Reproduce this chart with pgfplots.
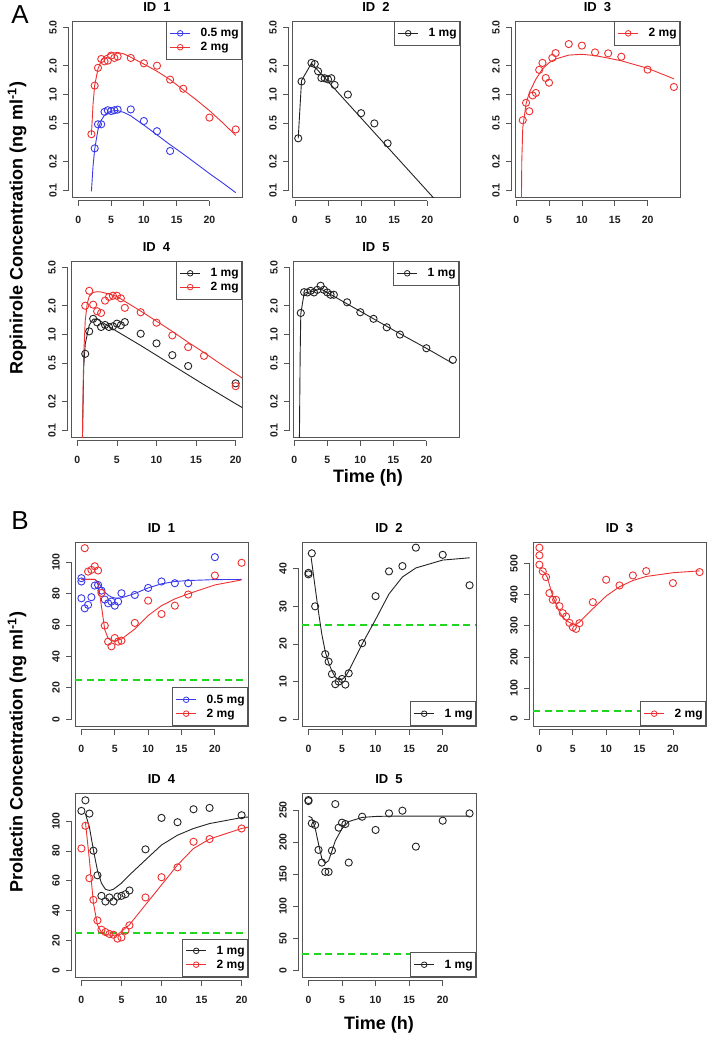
\documentclass[border=0pt]{standalone}
\usepackage{fontspec}
\setmainfont{Liberation Sans}
\usepackage{pgfplots}
\pgfplotsset{compat=1.18}

\definecolor{mred}{RGB}{238,48,48}
\definecolor{mblue}{RGB}{58,58,235}
\definecolor{mblk}{RGB}{35,35,35}
\definecolor{mgreen}{RGB}{30,215,30}
\definecolor{axcol}{RGB}{85,85,85}

\newcommand{\tickfont}{\fontsize{10.5}{11}\selectfont\bfseries}

\pgfplotsset{
 legend image code/.code={\draw[mark repeat=2,mark phase=2,#1] plot coordinates {(0pt,0pt) (10pt,0pt) (20pt,0pt)};},
 rbase/.style={
   scale only axis, anchor=north west,
   axis line style={axcol, line width=0.9pt},
   major tick length=0pt,
   tick style={draw=none},
   /pgf/number format/assume math mode=true,
   ticklabel style={font=\tickfont, text=black!88, inner sep=0pt},
   xticklabel shift=19pt,
   yticklabel style={rotate=90, anchor=south},
   yticklabel shift=15pt,
   clip mode=individual,
   title style={font=\fontsize{13}{14}\selectfont\bfseries, at={(0.5,1)}, anchor=center, yshift=8pt},
   legend cell align=left,
   legend style={draw=axcol, line width=0.8pt, fill=white, font=\fontsize{12}{13}\selectfont\bfseries, inner xsep=3pt, inner ysep=5pt, nodes={inner xsep=0pt, inner ysep=2pt}, row sep=0pt, /tikz/every odd column/.append style={column sep=10pt}},
 },
 legNE/.style={legend style={at={(1,1)}, anchor=north east}},
 legSE/.style={legend style={at={(1,0)}, anchor=south east}},
 pts/.style={only marks, mark=o, mark size=3.6pt, line width=0.9pt, forget plot},
 fit/.style={no marks, line width=0.9pt, forget plot},
 thr/.style={color=mgreen, draw=mgreen, line width=1.8pt, dash pattern=on 7pt off 4.5pt, forget plot},
}

% R-style offset axes: #1 = ymin, #2 first, #3 last, #4 list
\newcommand{\Rxax}[4]{%
  \draw[axcol, line width=0.8pt] ([yshift=-3.5pt]axis cs:#2,#1) -- ([yshift=-3.5pt]axis cs:#3,#1);
  \pgfplotsinvokeforeach{#4}{\draw[axcol, line width=0.8pt] ([yshift=-3.5pt]axis cs:##1,#1) -- ([yshift=-9pt]axis cs:##1,#1);}%
}
\newcommand{\Ryax}[4]{%
  \draw[axcol, line width=0.8pt] ([xshift=-3.5pt]axis cs:#1,#2) -- ([xshift=-3.5pt]axis cs:#1,#3);
  \pgfplotsinvokeforeach{#4}{\draw[axcol, line width=0.8pt] ([xshift=-3.5pt]axis cs:#1,##1) -- ([xshift=-9pt]axis cs:#1,##1);}%
}

\begin{document}
\begin{tikzpicture}
\fill[white] (0,0) rectangle (709pt,-1038pt);
\useasboundingbox (0,0) rectangle (709pt,-1038pt);

% ---------------- Panel A ----------------
\begin{axis}[rbase, ymode=log, ymin=0.0855, ymax=5.85, ytick={0.1,0.2,0.5,1,2,5}, yticklabels={0.1,0.2,0.5,1.0,2.0,5.0}, xtick={0,5,10,15,20}, legNE, at={(72pt,-21pt)}, width=170pt, height=176pt, xmin=-0.96, xmax=24.96, title={ID\ \ 1}]
\addplot[fit, mblue] coordinates {(2,0.098)(2.25,0.18)(2.5,0.27)(3,0.43)(3.5,0.54)(4,0.61)(4.5,0.65)(5,0.67)(5.5,0.68)(6,0.68)(7,0.65)(8,0.6)(10,0.48)(12,0.38)(14,0.30)(16,0.24)(18,0.19)(20,0.15)(22,0.12)(24,0.095)};
\addplot[fit, mred] coordinates {(2,0.38)(2.25,0.8)(2.5,1.25)(3,1.85)(3.5,2.25)(4,2.5)(5,2.7)(6,2.75)(7,2.65)(8,2.45)(10,2.08)(12,1.75)(14,1.43)(16,1.12)(18,0.88)(20,0.68)(22,0.51)(24,0.375)};
\addplot[pts, mblue] coordinates {(2.5,0.275)(3,0.49)(3.5,0.49)(4,0.66)(4.5,0.686)(5,0.673)(5.5,0.686)(6,0.697)(8,0.70)(10,0.53)(12,0.415)(14,0.258)};
\addplot[pts, mred] coordinates {(2,0.386)(2.5,1.24)(3,1.90)(3.5,2.35)(4,2.22)(4.5,2.26)(5,2.55)(5.5,2.41)(6,2.49)(8,2.41)(10,2.12)(12,2.0)(14,1.43)(16,1.15)(20,0.575)(24,0.433)};
\Rxax{0.0855}{0}{20}{0,5,10,15,20}
\Ryax{-0.96}{0.1}{5}{0.1,0.2,0.5,1,2,5}
\addlegendimage{mblue, line width=0.8pt, mark=o, mark size=2.8pt}
\addlegendentry{0.5 mg}
\addlegendimage{mred, line width=0.8pt, mark=o, mark size=2.8pt}
\addlegendentry{2 mg}
\end{axis}

\begin{axis}[rbase, ymode=log, ymin=0.0855, ymax=5.85, ytick={0.1,0.2,0.5,1,2,5}, yticklabels={0.1,0.2,0.5,1.0,2.0,5.0}, xtick={0,5,10,15,20}, legNE, at={(292pt,-21pt)}, width=168pt, height=176pt, xmin=-0.44, xmax=24.94, title={ID\ \ 2}]
\addplot[fit, mblk] coordinates {(0.5,0.35)(1,1.4)(2.5,2.12)(24,0.049)};
\addplot[pts, mblk] coordinates {(0.5,0.35)(1,1.37)(2.5,2.14)(3,2.08)(3.5,1.75)(4,1.49)(4.5,1.48)(5,1.44)(5.5,1.48)(6,1.26)(8,1.0)(10,0.64)(12,0.50)(14,0.31)};
\Rxax{0.0855}{0}{20}{0,5,10,15,20}
\Ryax{-0.44}{0.1}{5}{0.1,0.2,0.5,1,2,5}
\addlegendimage{mblk, line width=0.8pt, mark=o, mark size=2.8pt}
\addlegendentry{1 mg}
\end{axis}

\begin{axis}[rbase, ymode=log, ymin=0.0855, ymax=5.85, ytick={0.1,0.2,0.5,1,2,5}, yticklabels={0.1,0.2,0.5,1.0,2.0,5.0}, xtick={0,5,10,15,20}, legNE, at={(515pt,-21pt)}, width=165pt, height=176pt, xmin=-0.18, xmax=24.93, title={ID\ \ 3}]
\addplot[fit, mred] coordinates {(0.75,0.03)(0.85,0.2)(1,0.45)(1.5,0.8)(2,1.05)(3,1.45)(4,1.85)(5,2.15)(6,2.35)(8,2.58)(10,2.63)(12,2.55)(14,2.4)(16,2.25)(20,1.88)(24,1.46)};
\addplot[pts, mred] coordinates {(1,0.54)(1.5,0.82)(2,0.67)(2.5,0.98)(3,1.04)(3.5,1.81)(4,2.14)(4.5,1.49)(5,1.33)(5.5,2.41)(6,2.71)(8,3.36)(10,3.24)(12,2.75)(14,2.69)(16,2.48)(20,1.82)(24,1.20)};
\Rxax{0.0855}{0}{20}{0,5,10,15,20}
\Ryax{-0.18}{0.1}{5}{0.1,0.2,0.5,1,2,5}
\addlegendimage{mred, line width=0.8pt, mark=o, mark size=2.8pt}
\addlegendentry{2 mg}
\end{axis}

\begin{axis}[rbase, ymode=log, ymin=0.0855, ymax=5.85, ytick={0.1,0.2,0.5,1,2,5}, yticklabels={0.1,0.2,0.5,1.0,2.0,5.0}, xtick={0,5,10,15,20}, legNE, at={(71pt,-261pt)}, width=171pt, height=176pt, xmin=-0.8, xmax=20.8, title={ID\ \ 4}]
\addplot[fit, mblk] coordinates {(0.6,0.05)(0.8,0.45)(1,0.8)(1.5,1.25)(2,1.45)(2.5,1.45)(5,1.08)(8,0.77)(12,0.48)(16,0.30)(20,0.19)(21,0.17)};
\addplot[fit, mred] coordinates {(0.6,0.05)(0.8,0.6)(1,1.4)(1.25,2.1)(1.5,2.5)(2,2.75)(2.5,2.8)(3,2.78)(4,2.65)(5,2.5)(6,2.22)(8,1.76)(10,1.38)(12,1.08)(14,0.83)(16,0.65)(18,0.5)(20,0.39)(21,0.345)};
\addplot[pts, mblk] coordinates {(1,0.63)(1.5,1.08)(2,1.46)(2.5,1.34)(3,1.20)(3.5,1.26)(4,1.20)(4.5,1.22)(5,1.30)(5.5,1.25)(6,1.35)(8,1.02)(10,0.81)(12,0.61)(14,0.47)(20,0.31)};
\addplot[pts, mred] coordinates {(1,2.0)(1.5,2.86)(2,2.05)(2.5,1.75)(3,1.68)(3.5,2.26)(4,2.47)(4.5,2.54)(5,2.54)(5.5,2.39)(6,1.90)(8,1.71)(10,1.33)(12,0.98)(14,0.74)(16,0.60)(20,0.29)};
\Rxax{0.0855}{0}{20}{0,5,10,15,20}
\Ryax{-0.8}{0.1}{5}{0.1,0.2,0.5,1,2,5}
\addlegendimage{mblk, line width=0.8pt, mark=o, mark size=2.8pt}
\addlegendentry{1 mg}
\addlegendimage{mred, line width=0.8pt, mark=o, mark size=2.8pt}
\addlegendentry{2 mg}
\end{axis}

\begin{axis}[rbase, ymode=log, ymin=0.0855, ymax=5.85, ytick={0.1,0.2,0.5,1,2,5}, yticklabels={0.1,0.2,0.5,1.0,2.0,5.0}, xtick={0,5,10,15,20}, legNE, at={(293pt,-261pt)}, width=166pt, height=176pt, xmin=-0.18, xmax=24.93, title={ID\ \ 5}]
\addplot[fit, mblk] coordinates {(0.78,0.07)(0.9,0.6)(1,1.65)(1.5,2.7)(2,2.75)(3,2.85)(4,3.0)(5,2.74)(6,2.51)(8,2.09)(10,1.75)(12,1.46)(16,1.02)(20,0.72)(24,0.5)};
\addplot[pts, mblk] coordinates {(1,1.68)(1.5,2.77)(2,2.75)(2.5,2.86)(3,2.75)(3.5,2.93)(4,3.23)(4.5,2.93)(5,2.75)(5.5,2.6)(6,2.6)(8,2.17)(10,1.71)(12,1.46)(14,1.19)(16,1.0)(20,0.72)(24,0.545)};
\Rxax{0.0855}{0}{20}{0,5,10,15,20}
\Ryax{-0.18}{0.1}{5}{0.1,0.2,0.5,1,2,5}
\addlegendimage{mblk, line width=0.8pt, mark=o, mark size=2.8pt}
\addlegendentry{1 mg}
\end{axis}

% ---------------- Panel B ----------------
\begin{axis}[rbase, legSE, at={(75pt,-542pt)}, width=173pt, height=184pt, xmin=-0.96, xmax=24.96, ymin=-4.34, ymax=112.84, xtick={0,5,10,15,20}, ytick={0,20,40,60,80,100}, title={ID\ \ 1}]
\addplot[thr] coordinates {(-0.96,25)(24.96,25)};
\addplot[fit, mblue] coordinates {(0,89)(2,89)(2.5,87.5)(3,84)(3.5,81)(4,79)(4.5,77.8)(5,77.2)(5.5,77)(6,77.3)(8,80)(10,83.6)(12,86.2)(14,87.7)(16,88.3)(20,88.9)(24,89)};
\addplot[fit, mred] coordinates {(0,89)(2,89)(2.5,87)(3,72)(3.5,57)(4,51.5)(4.5,50)(5,49.8)(6,51)(8,57.4)(10,66)(12,72.3)(14,76.6)(16,79.8)(20,85.5)(24,88.7)};
\addplot[pts, mblue] coordinates {(0,89.8)(0,87.7)(0,77.0)(0.5,70.6)(1,72.8)(1.5,77.7)(2,85.1)(2.5,85.5)(3,81.9)(3.5,76.2)(4,73.8)(4.5,74.9)(5,72.3)(5.5,74.9)(6,80.2)(8,79.1)(10,83.6)(12,87.7)(14,86.6)(16,86.6)(20,103.2)};
\addplot[pts, mred] coordinates {(0.5,108.9)(1,94.0)(1.5,95.1)(2,97.4)(2.5,94.7)(3,80.4)(3.5,59.6)(4,49.4)(4.5,46.4)(5,51.7)(5.5,49.4)(6,50.0)(8,61.3)(10,75.5)(12,67.0)(14,72.3)(16,79.4)(20,91.5)(24,99.6)};
\Rxax{-4.34}{0}{20}{0,5,10,15,20}
\Ryax{-0.96}{0}{100}{0,20,40,60,80,100}
\addlegendimage{mblue, line width=0.8pt, mark=o, mark size=2.8pt}
\addlegendentry{0.5 mg}
\addlegendimage{mred, line width=0.8pt, mark=o, mark size=2.8pt}
\addlegendentry{2 mg}
\end{axis}

\begin{axis}[rbase, legSE, at={(302pt,-542pt)}, width=174pt, height=184pt, xmin=-0.96, xmax=24.96, ymin=-1.81, ymax=47.1, xtick={0,5,10,15,20}, ytick={0,10,20,30,40}, title={ID\ \ 2}]
\addplot[thr] coordinates {(-0.96,25)(24.96,25)};
\addplot[fit, mblk] coordinates {(0.4,43)(1,35)(1.5,28.5)(2,22.5)(2.5,18)(3,15)(3.5,12.8)(4,11.2)(4.5,10.5)(5,10.6)(5.5,11.3)(6,12.8)(8,20)(10,26.5)(12,33.3)(14,37.8)(16,40.2)(20,42.3)(24,42.9)};
\addplot[pts, mblk] coordinates {(0,38.9)(0,38.5)(0.5,44.1)(1,30.0)(2.5,17.3)(3,15.3)(3.5,12.0)(4,9.3)(4.5,10.0)(5,10.7)(5.5,9.2)(6,12.2)(8,20.2)(10,32.7)(12,39.3)(14,40.7)(16,45.6)(20,43.7)(24,35.6)};
\Rxax{-1.81}{0}{20}{0,5,10,15,20}
\Ryax{-0.96}{0}{40}{0,10,20,30,40}
\addlegendimage{mblk, line width=0.8pt, mark=o, mark size=2.8pt}
\addlegendentry{1 mg}
\end{axis}

\begin{axis}[rbase, legSE, at={(533pt,-542pt)}, width=173pt, height=184pt, xmin=-0.96, xmax=24.96, ymin=-22.3, ymax=569.9, xtick={0,5,10,15,20}, ytick={0,100,200,300,400,500}, title={ID\ \ 3}]
\addplot[thr, line width=2.2pt] coordinates {(-0.96,25)(24.96,25)};
\addplot[fit, mred] coordinates {(0.2,480)(0.8,470)(1.2,455)(1.5,432)(2,395)(2.5,370)(3,345)(3.5,328)(4,318)(4.5,311)(5,306)(5.5,305)(6,312)(8,355)(10,396)(12,426)(14,446)(16,459)(20,471)(24,477)};
\addplot[pts, mred] coordinates {(0,551.6)(0,526.9)(0,496.8)(0.5,475.3)(1,457)(1.5,405.4)(2,383.9)(2.5,383.9)(3,363.4)(3.5,340.9)(4,330.1)(4.5,309.7)(5,295.7)(5.5,290.3)(6,308.6)(8,376.3)(10,448.4)(12,430.1)(14,462.4)(16,476.3)(20,437.6)(24,473.1)};
\Rxax{-22.3}{0}{20}{0,5,10,15,20}
\Ryax{-0.96}{0}{500}{0,100,200,300,400,500}
\addlegendimage{mred, line width=0.8pt, mark=o, mark size=2.8pt}
\addlegendentry{2 mg}
\end{axis}

\begin{axis}[rbase, legSE, at={(75pt,-793pt)}, width=173pt, height=184pt, xmin=-0.8, xmax=20.8, ymin=-4.57, ymax=118.9, xtick={0,5,10,15,20}, ytick={0,20,40,60,80,100}, title={ID\ \ 4}]
\addplot[thr] coordinates {(-0.8,25)(20.8,25)};
\addplot[fit, mblk] coordinates {(0.5,105)(1,96)(1.5,80.6)(2,67)(2.5,58.4)(3,54.3)(3.5,53.5)(4,54.3)(5,58.4)(6,63.9)(8,74)(10,84)(12,90.6)(14,95.1)(16,98.4)(20,102.4)(20.8,102.8)};
\addplot[fit, mred] coordinates {(0.5,99.5)(1,74)(1.5,45)(2,30.5)(2.5,25.4)(3,23.8)(4,23.4)(4.5,23.8)(5,26)(6,30.5)(8,43.9)(10,57.2)(12,70.6)(14,81.7)(16,88)(20,95.1)(20.8,96)};
\addplot[pts, mblk] coordinates {(0,106.9)(0.5,114.0)(1,105.1)(1.5,80.2)(2,63.7)(2.5,49.9)(3,46.1)(3.5,48.8)(4,46.1)(4.5,49.4)(5,49.9)(5.5,51.0)(6,53.5)(8,81.1)(10,102.2)(12,99.3)(14,108.0)(16,108.9)(20,104.0)};
\addplot[pts, mred] coordinates {(0,81.7)(0.5,96.9)(1,61.7)(1.5,47.2)(2,33.4)(2.5,27.2)(3,25.6)(3.5,24.3)(4,23.8)(4.5,21.2)(5,22.0)(5.5,26.5)(6,30.1)(8,48.8)(10,62.4)(12,69.0)(14,86.2)(16,88.0)(20,95.1)};
\Rxax{-4.57}{0}{20}{0,5,10,15,20}
\Ryax{-0.8}{0}{100}{0,20,40,60,80,100}
\addlegendimage{mblk, line width=0.8pt, mark=o, mark size=2.8pt}
\addlegendentry{1 mg}
\addlegendimage{mred, line width=0.8pt, mark=o, mark size=2.8pt}
\addlegendentry{2 mg}
\end{axis}

\begin{axis}[rbase, legSE, at={(302pt,-793pt)}, width=174pt, height=184pt, xmin=-0.96, xmax=24.96, ymin=-10.65, ymax=276.6, xtick={0,5,10,15,20}, ytick={0,50,100,150,200,250}, title={ID\ \ 5}]
\addplot[thr] coordinates {(-0.96,25)(24.96,25)};
\addplot[fit, mblk] coordinates {(0,240.5)(0.5,238)(1,222)(1.5,197)(2,174)(2.5,167)(3,171)(3.5,186)(4,202)(5,221)(6,232)(8,238.5)(10,240)(12,240.5)(24,240.5)};
\addplot[pts, mblk] coordinates {(0,265.6)(0,264)(0.5,229.3)(1,226.7)(1.5,187.8)(2,168.0)(2.5,153.5)(3,153.5)(3.5,186.7)(4,259.3)(4.5,222.5)(5,230.3)(5.5,228.2)(6,168.0)(8,239.6)(10,218.9)(12,244.8)(14,249.0)(16,192.9)(20,233.4)(24,244.8)};
\Rxax{-10.65}{0}{20}{0,5,10,15,20}
\Ryax{-0.96}{0}{250}{0,50,100,150,200,250}
\addlegendimage{mblk, line width=0.8pt, mark=o, mark size=2.8pt}
\addlegendentry{1 mg}
\end{axis}

% ---------------- Labels ----------------
\node[font=\fontsize{26}{28}\selectfont] at (20pt,-15pt) {A};
\node[font=\fontsize{26}{28}\selectfont] at (20pt,-521pt) {B};
\node[font=\fontsize{18}{20}\selectfont\bfseries, rotate=90] at (17pt,-228pt) {Ropinirole Concentration (ng ml\textsuperscript{-1})};
\node[font=\fontsize{18}{20}\selectfont\bfseries, rotate=90] at (17pt,-752pt) {Prolactin Concentration (ng ml\textsuperscript{-1})};
\node[font=\fontsize{18}{20}\selectfont\bfseries] at (368pt,-478pt) {Time (h)};
\node[font=\fontsize{18}{20}\selectfont\bfseries] at (379pt,-1025pt) {Time (h)};
\end{tikzpicture}
\end{document}
